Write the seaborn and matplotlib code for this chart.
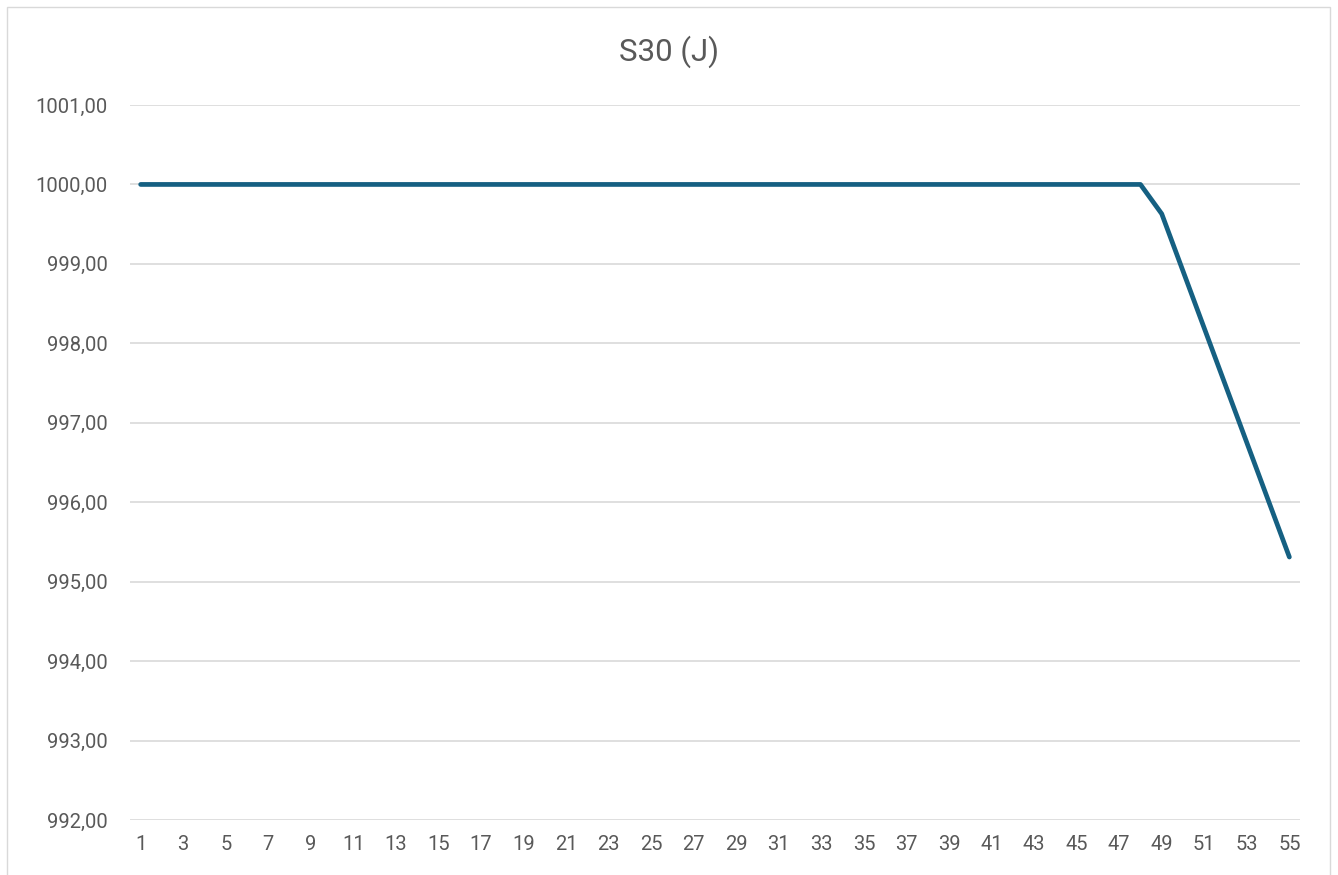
import pandas as pd
import matplotlib.pyplot as plt
import seaborn as sns
from matplotlib.patches import Rectangle

steps = list(range(1, 56))
energy = [1000.00] * 48 + [999.63, 998.91, 998.19, 997.47, 996.75, 996.03, 995.31]
y_ticks = [992, 993, 994, 995, 996, 997, 998, 999, 1000, 1001]
title = "S30 (J)"

df = pd.DataFrame({"step": steps, "energy": energy})

sns.set_style("white")
plt.rcParams["font.family"] = ["Roboto", "DejaVu Sans"]

fig = plt.figure(figsize=(13.38, 8.75), dpi=100)
ax = fig.add_axes([130 / 1338, 55 / 875, 1170 / 1338, 715 / 875])

sns.lineplot(data=df, x="step", y="energy", ax=ax, color="#156082", linewidth=3.4,
             solid_capstyle="round", solid_joinstyle="round")

ax.set_xlim(0.5, 55.5)
ax.set_ylim(992, 1001)
ax.set_yticks(y_ticks)
ax.set_yticklabels([f"{v:.2f}".replace(".", ",") for v in y_ticks])
ax.set_xticks(steps[::2])
ax.set_xticklabels([str(s) for s in steps[::2]])
ax.grid(axis="y", color="#d9d9d9", linewidth=1.2)
ax.set_axisbelow(True)
for s in ax.spines.values():
    s.set_visible(False)
ax.tick_params(axis="both", length=0, labelsize=14.5, labelcolor="#595959")
ax.tick_params(axis="y", pad=16)
ax.tick_params(axis="x", pad=11)
ax.set_xlabel("")
ax.set_ylabel("")

fig.text(0.5, 1 - 52 / 875, title, ha="center", va="center", fontsize=22.5, color="#595959")
fig.patches.append(Rectangle((7 / 1338, -0.01), 1323 / 1338, 1 - 7 / 875 + 0.01,
                             transform=fig.transFigure, fill=False, edgecolor="#d9d9d9", linewidth=1))

fig.savefig("out.png", dpi=100)
